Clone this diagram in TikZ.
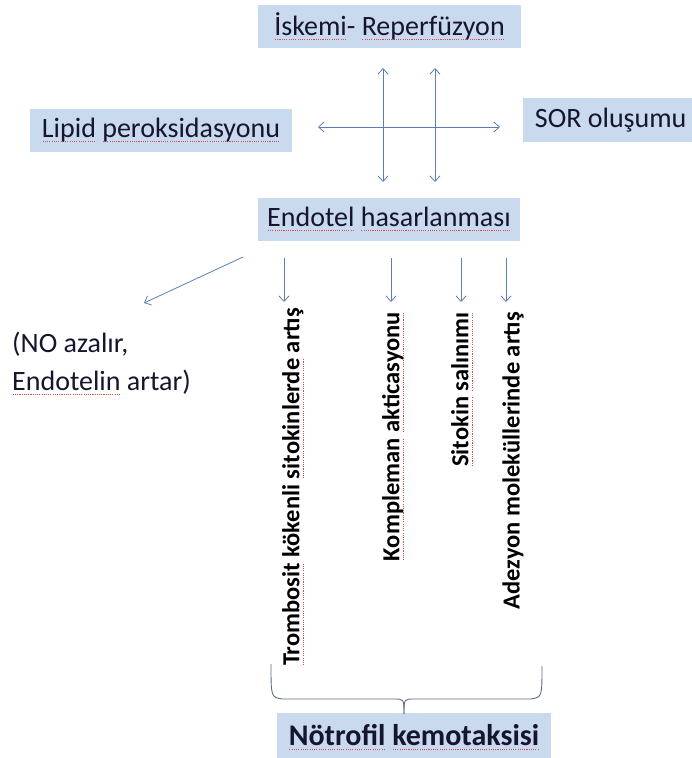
\documentclass[tikz,border=0pt]{standalone}
\usepackage{fontspec}
\setmainfont{Carlito}
\usetikzlibrary{arrows.meta}
\definecolor{boxfill}{HTML}{C9D9EE}
\definecolor{arrowc}{HTML}{5B7FB5}
\definecolor{txtc}{HTML}{15152E}
\definecolor{bracec}{HTML}{5E6C80}
\definecolor{spell}{HTML}{E04848}
\newcommand\spl[1]{\setbox0\hbox{#1}\rlap{\raisebox{-4.5pt}{\textcolor{spell}{\hbox to \wd0{\xleaders\hbox to 2.2pt{\hss\rule{1.1pt}{1.1pt}\hss}\hfill}}}}\box0\relax}
\tikzset{
  lbl/.style={fill=boxfill, text=txtc, font=\fontsize{28}{30}\selectfont, inner sep=0pt, minimum height=43pt},
  vtxt/.style={rotate=90, anchor=east, font=\bfseries\fontsize{24.5}{26}\selectfont, text=black, inner sep=0pt},
  arr/.style={draw=arrowc, line width=0.8pt, -{Straight Barb[length=5.5pt,width=10pt]}},
  darr/.style={draw=arrowc, line width=0.8pt, {Straight Barb[length=5.5pt,width=10pt]}-{Straight Barb[length=5.5pt,width=10pt]}},
}
\begin{document}
\begin{tikzpicture}[x=1pt,y=-1pt]
\useasboundingbox (0,0) rectangle (692,758);
% boxes
\node[lbl, minimum width=263pt] (isk) at (389.5,26) {\spl{İskemi}- \spl{Reperfüzyon}};
\node[lbl, minimum width=262pt] (lip) at (161,130) {\spl{Lipid} \spl{peroksidasyonu}};
\node[lbl, minimum width=169pt, minimum height=44pt, anchor=west] (sor) at (523,120) {\hspace*{6pt}SOR oluşumu\hfill};
\node[lbl, minimum width=262pt] (endo) at (389,219) {\spl{Endotel} \spl{hasarlanması}};
\node[fill=boxfill, text=txtc, font=\bfseries\fontsize{30}{32}\selectfont, inner sep=0pt, minimum width=274pt, minimum height=48pt, anchor=north] (neu) at (414,713) {\spl{Nötrofil} \spl{kemotaksisi}};
% left text
\node[anchor=north west, align=left, text=txtc, font=\fontsize{28}{38}\selectfont, inner sep=0pt] (no) at (12,332) {(NO azalır,\\\spl{Endotelin} artar)};
% vertical texts
\node[vtxt] (t1) at (293,308) {\spl{Trombosit} kökenli \spl{sitokinlerde} artış};
\node[vtxt] (t2) at (393,312) {\spl{Kompleman} \spl{akticasyonu}};
\node[vtxt] (t3) at (462,312) {\spl{Sitokin} \spl{salınımı}};
\node[vtxt] (t4) at (513,312) {Adezyon moleküllerinde artış};
% arrow coordinates
\coordinate (v1a) at (383,68);
\coordinate (v1b) at (383,182);
\coordinate (v2a) at (435,68);
\coordinate (v2b) at (435,182);
\coordinate (ha) at (318,127);
\coordinate (hb) at (500,127);
\draw[darr] (v1a) -- (v1b);
\draw[darr] (v2a) -- (v2b);
\draw[darr] (ha) -- (hb);
% diagonal
\coordinate (d1) at (243,257);
\coordinate (d2) at (144,303);
\draw[arr] (d1) -- (d2);
% down arrows
\foreach \n/\x in {a/284, b/391, c/461, d/506} {
  \coordinate (s\n) at (\x,258);
  \coordinate (e\n) at (\x,302);
  \draw[arr] (s\n) -- (e\n);
}
% brace
\coordinate (bl) at (271,664);
\coordinate (br) at (542,666);
\coordinate (tip) at (404,714);
\draw[bracec, line width=0.9pt] (bl) .. controls (271,697) .. (282,699) -- (394,699) .. controls (404,699) .. (tip);
\draw[bracec, line width=0.9pt] (tip) .. controls (404,699) .. (414,699) -- (531,699) .. controls (542,697) .. (br);
\end{tikzpicture}
\end{document}
